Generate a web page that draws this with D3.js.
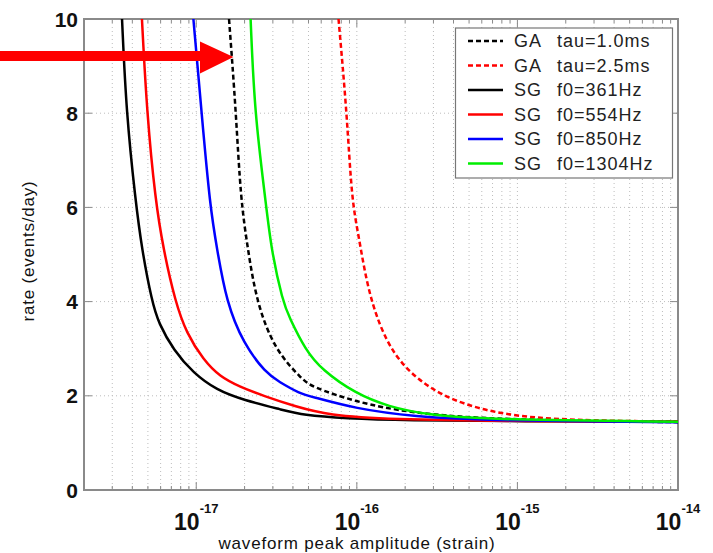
<!DOCTYPE html>
<html><head><meta charset="utf-8">
<script src="https://cdn.jsdelivr.net/npm/d3@7"></script>
<style>
body{margin:0;background:#fff}
svg{display:block}
text{font-family:"Liberation Sans",Arial,Helvetica,sans-serif}
</style>
</head><body>
<svg id="chart" width="713" height="553"></svg>
<script>
// ---- data ----
const seriesLabels = ["GA  tau=1.0ms","GA  tau=2.5ms","SG  f0=361Hz","SG  f0=554Hz","SG  f0=850Hz","SG  f0=1304Hz"];
const seriesColors = ["#000000","#ff0000","#000000","#ff0000","#0000ff","#00ee00"];
const seriesDashed = [true,true,false,false,false,false];

const ga10Amp  = [1.60e-17,1.77e-17,1.89e-17,2.10e-17,2.37e-17,3.08e-17,4.60e-17,5.26e-17,9.77e-17,2.19e-16,7.53e-16,1e-14];
const ga10Rate = [10,8,6.16,5.10,4.0,2.97,2.34,2.19,1.87,1.63,1.49,1.44];
const ga25Amp  = [7.69e-17,8.67e-17,9.29e-17,1.02e-16,1.15e-16,1.36e-16,1.73e-16,2.40e-16,3.52e-16,5.66e-16,9.10e-16,1.47e-15,2.36e-15,3.78e-15,1e-14];
const ga25Rate = [10,8,6.16,5.45,4.39,3.54,2.83,2.34,1.98,1.73,1.59,1.52,1.49,1.47,1.45];
const sg361Amp  = [3.45e-18,3.67e-18,4.18e-18,4.59e-18,5.30e-18,5.83e-18,7.22e-18,9.60e-18,1.34e-17,1.96e-17,3.46e-17,4.60e-17,8.46e-17,2e-16,1e-15,1e-14];
const sg361Rate = [10,8,6.16,5.10,4.0,3.54,2.97,2.48,2.12,1.91,1.70,1.59,1.52,1.48,1.46,1.45];
const sg554Amp  = [4.59e-18,4.93e-18,5.56e-18,6.25e-18,7.40e-18,8.69e-18,1.11e-17,1.40e-17,1.87e-17,2.61e-17,4.17e-17,6.67e-17,1.57e-16,1e-15,1e-14];
const sg554Rate = [10,8,6.16,5.10,4.0,3.33,2.76,2.41,2.19,2.0,1.77,1.59,1.50,1.46,1.45];
const sg850Amp  = [9.6e-18,1.08e-17,1.22e-17,1.35e-17,1.54e-17,1.96e-17,2.72e-17,3.27e-17,4.40e-17,5.26e-17,9.77e-17,2.19e-16,7.53e-16,1e-14];
const sg850Rate = [10,8,6.0,5.10,4.0,3.11,2.48,2.30,2.05,1.98,1.73,1.56,1.47,1.44];
const sg1304Amp  = [2.18e-17,2.31e-17,2.70e-17,2.93e-17,3.46e-17,3.78e-17,4.79e-17,6.07e-17,9.77e-17,1.57e-16,2.77e-16,7.53e-16,1e-14];
const sg1304Rate = [10,8,6.16,5.10,4.0,3.68,2.97,2.55,2.05,1.77,1.59,1.49,1.45];

const xMajorTicks = [1e-17,1e-16,1e-15,1e-14];
const xMajorExp = ["-17","-16","-15","-14"];
const xMinorMult = [2,3,4,5,6,7,8,9];
const xMinorDecades = [1e-18,1e-17,1e-16,1e-15];
const yTicks = [0,2,4,6,8,10];
const xTitle = "waveform peak amplitude (strain)";
const yTitle = "rate (events/day)";

// ---- layout ----
const L = 84, R = 678, T = 19, B = 490;
const svg = d3.select("#chart");
const x = d3.scaleLog().domain([2e-18,1e-14]).range([L,R]);
const y = d3.scaleLinear().domain([0,10]).range([B,T]);

const xMinor = [];
xMinorDecades.forEach(d => xMinorMult.forEach(m => { const v = m*d; if (v >= 2e-18 && v < 1e-14) xMinor.push(v); }));
const xAll = xMinor.concat(xMajorTicks);

// grid
const grid = svg.append("g");
grid.selectAll("line.vx").data(xAll).enter().append("line")
  .attr("x1", d => x(d)).attr("x2", d => x(d)).attr("y1", T).attr("y2", B)
  .attr("stroke", "#bdbdbd").attr("stroke-width", 1).attr("stroke-dasharray", "1,3");
grid.selectAll("line.hy").data(yTicks.filter(v => v > 0 && v < 10)).enter().append("line")
  .attr("x1", L).attr("x2", R).attr("y1", d => y(d)).attr("y2", d => y(d))
  .attr("stroke", "#bdbdbd").attr("stroke-width", 1).attr("stroke-dasharray", "1,3");

// ticks (inside)
const tk = svg.append("g").attr("stroke", "#8a8a8a").attr("stroke-width", 1);
xAll.forEach(v => {
  const len = xMajorTicks.includes(v) ? 8 : 4;
  tk.append("line").attr("x1", x(v)).attr("x2", x(v)).attr("y1", B).attr("y2", B - len);
  tk.append("line").attr("x1", x(v)).attr("x2", x(v)).attr("y1", T).attr("y2", T + len);
});
yTicks.forEach(v => {
  tk.append("line").attr("x1", L).attr("x2", L + 8).attr("y1", y(v)).attr("y2", y(v));
  tk.append("line").attr("x1", R).attr("x2", R - 8).attr("y1", y(v)).attr("y2", y(v));
});

// box
svg.append("rect").attr("x", L).attr("y", T).attr("width", R - L).attr("height", B - T)
  .attr("fill", "none").attr("stroke", "#8a8a8a").attr("stroke-width", 2);

// curves
svg.append("clipPath").attr("id", "clip").append("rect")
  .attr("x", L).attr("y", T - 1).attr("width", R - L).attr("height", B - T + 1);
const seriesAmp = [ga10Amp, ga25Amp, sg361Amp, sg554Amp, sg850Amp, sg1304Amp];
const seriesRate = [ga10Rate, ga25Rate, sg361Rate, sg554Rate, sg850Rate, sg1304Rate];
const line = d3.line().x(d => x(d[0])).y(d => y(d[1])).curve(d3.curveBasis);
const cg = svg.append("g").attr("clip-path", "url(#clip)");
seriesAmp.forEach((amps, i) => {
  const pts = amps.map((a, j) => [a, seriesRate[i][j]]);
  cg.append("path").attr("d", line(pts)).attr("fill", "none")
    .attr("stroke", seriesColors[i]).attr("stroke-width", 2.5)
    .attr("stroke-dasharray", seriesDashed[i] ? "5,3" : null);
});

// y tick labels
svg.append("g").selectAll("text").data(yTicks).enter().append("text")
  .attr("x", 78).attr("y", d => y(d)).attr("dy", "0.36em")
  .attr("text-anchor", "end").attr("font-size", 21).attr("font-weight", "bold")
  .attr("fill", "#111").text(d => d);

// x tick labels
xMajorTicks.forEach((v, i) => {
  const t = svg.append("text").attr("x", x(v)).attr("y", 530)
    .attr("text-anchor", "middle").attr("font-weight", "bold").attr("fill", "#111");
  t.append("tspan").attr("font-size", 23).text("10");
  t.append("tspan").attr("font-size", 13).attr("dy", -17).text(xMajorExp[i]);
});

// axis titles
svg.append("text").attr("x", 357).attr("y", 549).attr("text-anchor", "middle")
  .attr("font-size", 17).attr("letter-spacing", 0.8).attr("fill", "#111").text(xTitle);
svg.append("text").attr("transform", "translate(34,251) rotate(-90)").attr("text-anchor", "middle")
  .attr("font-size", 17).attr("letter-spacing", 0.8).attr("fill", "#111").text(yTitle);

// legend
const lg = svg.append("g");
lg.append("rect").attr("x", 455.5).attr("y", 28).attr("width", 217).attr("height", 150)
  .attr("fill", "#fff").attr("stroke", "#777").attr("stroke-width", 1.2);
seriesLabels.forEach((lab, i) => {
  const yy = 41 + i * 24.5;
  lg.append("line").attr("x1", 468).attr("x2", 503).attr("y1", yy).attr("y2", yy)
    .attr("stroke", seriesColors[i]).attr("stroke-width", 2.5)
    .attr("stroke-dasharray", seriesDashed[i] ? "5,3" : null);
  const parts = lab.split("  ");
  const t = lg.append("text").attr("y", yy).attr("dy", "0.36em")
    .attr("font-size", 18).attr("letter-spacing", 1).attr("fill", "#222");
  t.append("tspan").attr("x", 514).text(parts[0] + " ");
  t.append("tspan").attr("x", 557).text(parts[1]);
});

// annotation arrow
svg.append("path")
  .attr("d", "M0,51 L200,51 L200,41.5 L233.5,57 L200,73.5 L200,61 L0,61 Z")
  .attr("fill", "#ff0000");
</script>
</body></html>
